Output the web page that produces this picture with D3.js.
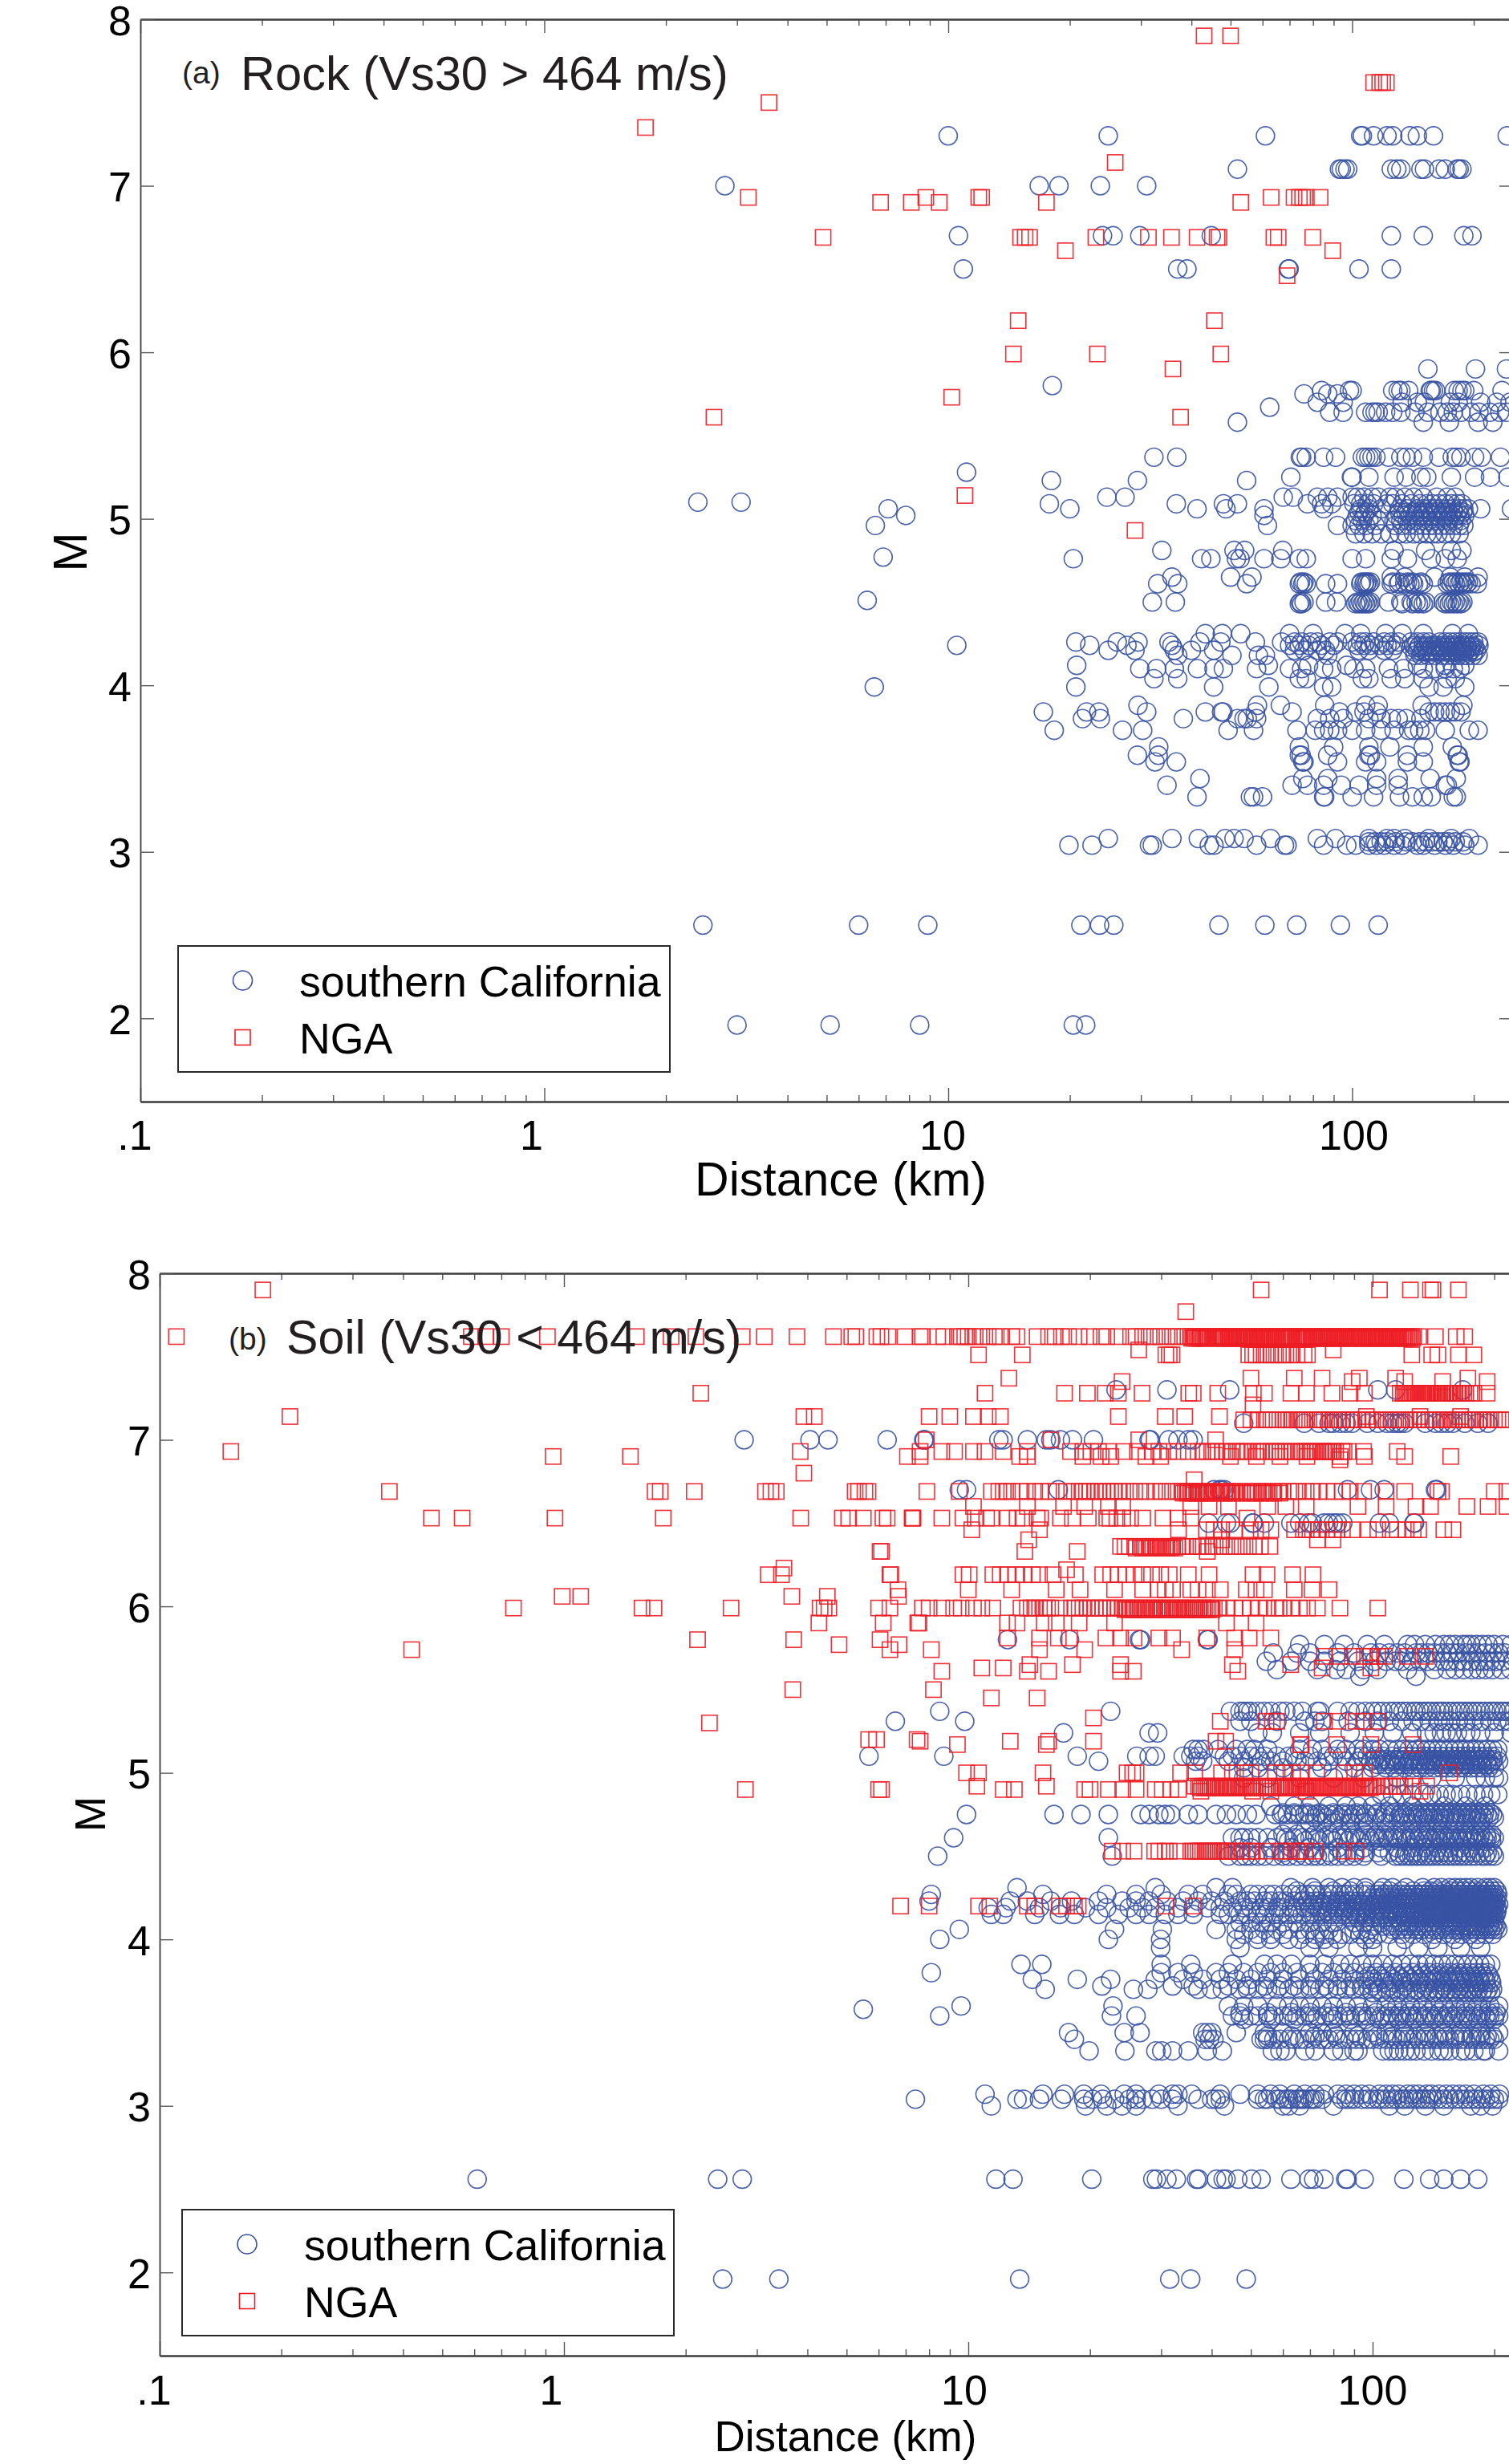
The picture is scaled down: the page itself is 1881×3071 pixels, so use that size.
<!DOCTYPE html>
<html><head><meta charset="utf-8">
<script src="https://cdn.jsdelivr.net/npm/d3@7"></script>
<style>html,body{margin:0;padding:0;background:#fff;overflow:hidden}svg{display:block}text{font-family:"Liberation Sans",Arial,sans-serif}</style>
</head><body><script>
// Each row: [magnitude M, [distances in km]]
const rockCaliforniaRows = [
[7.3,[10,24.9,61,105,106,113,122,126,139,145,159,242]],
[7.1,[52,93,94,96,97.5,125,129,132,148,151,164,170,182,184,187]],
[7.0,[2.8,16.8,18.8,23.8,31]],
[6.7,[10.6,24.1,25.6,29.8,44.8,125,150,189,198]],
[6.5,[10.9,37,39,69.5,69.8,104,125]],
[5.9,[154,202,241]],
[5.8,[18.1]],
[5.77,[84,98.5,100,126,130,132,138,156,157,159,161,179,183,187,190,200,235]],
[5.75,[76,87,92]],
[5.7,[82,95,133,145,151,175,183,208,228,246]],
[5.67,[62.5]],
[5.64,[88,95,108,112,114,116,121,126,132,143,154,165,172,178,186,197,206,219,232,241]],
[5.58,[52,150,174,205,223]],
[5.37,[32.3,36.8,74.4,75,77,85,91,106,108,110,112,114.5,123,132,136,141,150,164,177,181,186,201,209,233]],
[5.28,[11.1]],
[5.25,[70.5,99.6,100,110,127,136,148,153,176,201,220,243]],
[5.23,[18,29.4,54.8]],
[5.13,[24.7,27.4,67.5,71.5,82,87,92,100,103,107,112,116,124,128,135,142,150,162,172,180]],
[5.1,[2.4,3.07]],
[5.09,[17.8,36.7,48,52,77.5,84,89,101,105,109,113,122,126,133,140,147,153,158,164,170,176,182,187]],
[5.06,[7.1,20,41.3,48.7,60.5,85,105,110,118,131,137,145,150,155,160,166,172,178,184,189,194,208,248]],
[5.04,[104,108,131,136,141,146,150,154,158,163,168,173,178,183,188]],
[5.02,[7.85,60.5,103,107,112,129,134,139,143,148,152,157,161,167,171,176,181,185,190]],
[4.99,[102,106,110,116,127,132,137,143,149,155,161,167,173,179,186]],
[4.96,[6.6,61.7,92,100,104,108,114,128,133,138,144,150,155,160,166,172,178,184,189]],
[4.91,[102,107,112,118,124,131,136,142,147,153,158,163,170,176,184]],
[4.81,[33.8,51,54.2,67.3,127,152,176,187]],
[4.77,[6.9]],
[4.76,[20.4,42.4,44.7,51.7,52.8,60.5,66.6,74,77,100,108,125,137,157,170,182]],
[4.65,[35.8,50,56.5,125,135,160,175,190,205]],
[4.62,[74.5,76,105.5,107.5,109,111,126,131,137,141,148,174,178,182,186,190,194]],
[4.61,[33,37,54.8,74,75.5,77,86,92,105,107,108.5,110,125,130,135,139,142,146,150,172,176,180,184,188,192,197,204]],
[4.51,[6.3]],
[4.5,[32,36.5,74.5,76,86,91.5,103,105,107,109,111,123,132,140,144,148,152,168,172,176,180,184,188]],
[4.49,[74,75,102,104,106,108,110,133,141,146,150,170,174,178,182,186]],
[4.31,[43.3,47.7,53,70,80,96,105,121,133,150,177,194]],
[4.26,[20.7,26.2,29.5,35.2,42,47.3,57.6,66.9,72,75,79,82,88,92,100,105,108,113,120,125,130,140,145,150,155,165,170,175,180,185,190,195,200,205]],
[4.24,[10.5,22.4,27.7,35.8,70,74,78,84,90,103,107,111,117,122,128,142,147,152,158,163,168,172,177,182,187,192,198,206]],
[4.23,[140,146,150,153,157,161,165,169,173,177,181,185,189,193,197,201]],
[4.21,[24.9,29,36.3,40,45.4,72,76,82,86,104,110,120,126,145,150,156,160,165,170,175,180,184,188,192,197,203]],
[4.2,[143,149,153,158,162,167,172,176,181,186,190,195,200]],
[4.18,[37,50.4,58.6,61,87,143,148,154,160,167,172,178,183,188,193,199,205]],
[4.12,[20.8,62,78,97,145,170,190]],
[4.1,[29.8,32.8,36.3,41.4,45.5,48,58,70,75,85,89,101,108,123,134,150,160,170,178,185]],
[4.04,[32.3,37,74,77,106,110,125,135,150,172,180]],
[3.99,[6.56,20.7,45.4,62.2,85,89,155,168,190]],
[3.88,[29.5,58.3,66.4,85.5,108,116,149,188]],
[3.84,[17.2,22,23.6,31,43.3,47.5,47.9,57.6,71,93,102,107,115,155,160,165,170,175,180,186]],
[3.8,[21.5,23.8,38.2,52,54,55,58,82,88,95,110,118,125,130,136,148]],
[3.73,[18.3,27,30.3,49.3,57,73,81,85,88,92,100,108,118,127,138,142,147,152,170,195,205]],
[3.63,[33.2,74,90,110,124,150,177]],
[3.58,[29.4,33.1,74,74.8,87,110,111,137,182,183]],
[3.54,[32.5,36.7,75.5,76,92,108,115,137,150,184,185]],
[3.44,[42,75.5,87,115,130,156,181]],
[3.4,[34.8,71,77.5,85,94,104,115,130,170,172]],
[3.33,[41.3,56,57,60,85,85.5,100,113,131,141,150,157,178,181]],
[3.08,[24.9,35.8,41.6,48.5,51,54,62.8,82,91,110,122,127,135,155,176,195]],
[3.06,[110,114,118,122,128,136,141,147,152,158,163,168,173,180,188]],
[3.04,[19.9,22.7,31.5,32,44.3,45.5,58,68,69,85,97,102,110,115,120,127,133,145,150,160,170,178,190,205]],
[2.56,[2.47,6,8.9,21.3,23.7,25.7,46.8,60.8,72.9,93.5,116]],
[1.96,[3,5.1,8.5,20.4,21.9]]
];
const rockNgaRows = [
[7.9,[43,50]],
[7.62,[113,117,119,121.5]],
[7.5,[3.6]],
[7.35,[1.78]],
[7.14,[25.9]],
[6.93,[3.2,8.8,11.9,12.1,63,71.8,74,75.4,77,83.3]],
[6.9,[6.8,8.1,9.5,17.5,53]],
[6.69,[4.9,15.1,15.5,15.9,23.2,31.3,35.7,41.3,46.3,46.8,64,65.6,79.9]],
[6.61,[19.5,89.5]],
[6.46,[69]],
[6.19,[14.9,45.6]],
[5.99,[14.5,23.4,47.3]],
[5.9,[36]],
[5.73,[10.2]],
[5.61,[2.63,37.6]],
[5.14,[11]],
[4.93,[29]]
];
const soilCaliforniaRows = [
[7.3,[23.2,31,44.3,103,114,167]],
[7.1,[48,67.7,73.7,78,80,83.2,86,89,97,103,108.5,112,115,117,120,135,143,148,153,158,169,182,193]],
[7.0,[2.79,4.06,4.5,6.3,7.76,7.8,11.9,12.2,14,15.6,16,16.9,18.1,20.4,28,28.2,31.3,33,35,36]],
[6.7,[9.5,9.9,16.7,40.5,41.8,42.3,43,86.7,98.8,106.8,143,144]],
[6.5,[39.3,43.5,44.5,50.5,50.7,54,62.8,66,69.5,71,75.8,77.8,80,81.8,84.4,104,110,126.5,127]],
[5.8,[12.5,17.8,26.5,26.7,39,39.2]],
[5.77,[66,76,85,97,107,122,127,135,143,150,155,160,167,171,175,181,187,193,200,210,220,235]],
[5.72,[56.8,65,70,82,90,99,104,110,115,120,128,132,137,142,148,153,158,163,170,176,182,190,198,205,212,226]],
[5.67,[54.6,63,70,76,83,92,101,108,114,118,125,131,137,143,150,155,162,168,175,182,188,195,202,210,222,235]],
[5.62,[58,73,81,86,95,103,122,142,153,160,168,176,183,190,198,208,220]],
[5.58,[93,128]],
[5.37,[8.5,22.5,44.5,47,48,49,50,52,54,56,59,61,64,67,73,74,82,88,92,96,100,103,106,110,113,116,119,122,126,128,131,134,137,140,144,147,150,154,158,162,165,169,173,177,181,185,190,195,199,203,208,212,217,223,229,235,241]],
[5.31,[6.6,9.8,47,50,58,68,72,75,87,96,103,110,118,126,132,138,145,150,156,163,170,178,186,195,203,210,218,228,240]],
[5.24,[17.2,28,29.4,52,56.5,66,74,88,101,112,125,136,142,148,152,157,162,170,175,185,200,220]],
[5.14,[36,37,38.2,41.5,46,49,51,55,66,71,75,82,86,92,95,100,104,110,115,119,123,128,132,136,140,145,150,155,160,165,170,175,180,186,192,198,204]],
[5.1,[5.68,8.7,18.6,26.1,28,29,34,35.5,37,43,45,47,50,52,54,58,62,64,70,77,80,84,90,94,97,102,106,112,117,121,125,130,134,138,142,147,152,157,162,167,172,178,184,190,197,203]],
[5.08,[101,105,108,113,116,120,124,129,133,137,141,145,149,154,159,163,168,173,177,182,187,193,199]],
[5.07,[21,36.5,38,44,48,53,56,60,65,68,73,78,86,92,99,105,110,114,118,123,127,132,137,141,146,151,155,160,165,169,174,179,185,191,198,205]],
[5.05,[103,107,111,115,119,122,126,131,135,139,143,148,152,156,161,166,170,175,180,186,192,196]],
[5.03,[48,52,60,75,90,100,108,113,120,126,131,136,142,148,153,158,164,169,175,181,187,194,200]],
[4.97,[48,55,66,80,95,115,125,140,160,180,190,200,205]],
[4.87,[105,112,118,125,134,140,146,152,158,165,172,180,188,196,204]],
[4.8,[56,64,70,78,86,92,100,110,125,150,170,190]],
[4.76,[60,64,69,74,80,85,91,96,103,108,113,118,122,127,131,135,139,143,148,152,157,162,167,172,177,183,189,195]],
[4.75,[9.9,16.3,19,22.2,26.7,28,29.6,30.7,31.7,35,37,41,43.5,46,49,51.5,57.5,59.5,61.5,64,66,68,70,72.5,75,78,81,84,87,90,93,97,102,107,112,117,120,125,129,133,137,141,146,150,155,160,165,170,175,180,186,192,198]],
[4.73,[72,77,83,89,95,101,106,111,116,121,126,130,134,138,142,147,151,156,161,166,171,176,182,188,194,200]],
[4.7,[62,70,75,80,88,95,108,118,125,135,145,160,170,185]],
[4.63,[60,65,72,78,84,90,96,102,107,113,119,125,131,137,143,149,155,161,167,173,179,185,191,197]],
[4.61,[9.2,22.2,45,47,48,50,52,55,58,61,64,67,70,73,76,79,82,85,88,91,94,98,101,103,106,109,112,115,118,121,124,127,130,133,136,139,142,145,148,151,154,157,160,163,166,169,172,176,180,184,188,192,196,200]],
[4.59,[62,68,74,80,87,93,99,104,110,116,122,128,134,140,146,152,158,164,170,177,183,190,197]],
[4.55,[47,50,56,63,70,82,95,105,115,125,135,145,155,165,175,190]],
[4.52,[60,66,72,78,84,90,96,103,110,116,121,126,131,137,143,148,153,159,165,171,178,184,192,198]],
[4.5,[8.4,22.7,44,47,48.5,50,52,54,57,60,62,65,68,71,73,76,79,82,86,90,95,105,114,117,120,123,125,128,130,133,136,139,142,146,150,154,158,162,166,170,175,180,186,190,195,200]],
[4.31,[13.2,29,41,45,62.8,71,78,84,90,96,106,112,121,133,142,148,155,160,165,170,175,182,190,195,200]],
[4.29,[65,72,80,88,96,104,110,118,126,134,139,144,150,156,162,168,174,180,186,192,198,203]],
[4.27,[8.1,15.3,22,26,30,35,38,44,46,50,52,55,57,60,63,66,68,70,72,75,78,80,83,85,87,90,94,97,101,104,107,110,113,116,119,122,125,128,131,134,137,140,143,146,149,152,155,158,161,164,167,170,173,176,179,182,185,188,191,194,197,200,204]],
[4.25,[100,103,106,109,112,115,118,121,124,127,130,133,136,139,142,145,148,151,154,157,160,163,166,169,172,175,178,181,184,187,190,193,196,199,203]],
[4.23,[8,12.7,14,16,18,21,24,26,28,31,34,37,40,43,47,49,51,54,56,59,61,64,67,69,72,74,77,79,82,84,87,89,92,95,98,102,105,109,112,115,118,121,124,127,130,133,136,139,142,145,148,151,154,157,160,163,166,169,172,175,178,181,184,187,190,193,196,199,202]],
[4.21,[71,75,79,83,86,90,94,98,101,104,107,111,114,117,120,123,126,129,132,135,138,141,144,147,150,153,156,159,162,165,168,171,174,177,180,183,186,189,192,195,198,201,205]],
[4.19,[11.2,12.4,15,16.9,19.5,22,25,27,29,33,36,39,42,45,48,50,53,55,58,60,63,65,68,70,73,75,78,81,83,86,88,91,94,96,99,103,106,110,113,116,119,122,125,128,131,134,137,140,143,146,149,152,155,158,161,164,167,170,173,176,179,182,185,188,191,194,197,200,203]],
[4.17,[74,77,82,85,89,93,97,101,105,109,112,115,118,121,124,127,130,133,136,139,142,145,148,151,154,157,160,163,166,169,172,175,178,181,184,187,190,193,196,199,203]],
[4.15,[11.4,12.2,14.6,16.8,18.3,21,23.5,26,28,30.7,33,36,42,44,47,49,52,54,57,59,62,64,67,70,72,75,78,80,83,85,88,91,93,96,100,104,107,111,115,118,121,124,127,130,133,136,139,142,145,148,151,154,157,160,163,166,169,172,175,178,181,184,187,190,193,196,199,202]],
[4.13,[88,92,96,100,104,108,112,116,120,124,128,132,136,140,144,148,152,156,160,164,168,172,176,180,184,188,192,196,200]],
[4.1,[47,50,53,56,60,65,70,75,80,90,95,105,112,118,123,129,134,140,145,151,156,162,167,173,178,184,189,195,200]],
[4.08,[100,106,110,114,118,122,126,130,134,138,142,146,150,154,158,162,166,170,174,178,182,186,190,194,198,202]],
[4.06,[9.5,23,30.2,41,46,50,54,58,62,66,70,74,78,90,94,98,112,116,120,124,128,132,136,140,144,148,152,156,160,164,168,172,176,180,184,188,192,196,200,204]],
[4.03,[48,52,56,60,68,72,76,80,84,88,93,98,103,110,118,126,134,142,150,158,166,174,182,190,198]],
[4.0,[8.5,22.2,29.9,46,52,56,62,66,72,76,82,96,100,120,140,160,180]],
[3.95,[29.9,47,70,78,92,100,115,130,145,165,185]],
[3.85,[13.5,15.2,30,35.5,45,54,58,63,70,76,83,88,94,100,106,112,118,124,130,136,142,148,154,160,166,172,178,184,190,196]],
[3.8,[8.1,30,33,36,41,44,48,52,56,60,65,70,75,80,85,90,96,102,108,114,120,126,132,138,144,150,156,162,168,174,180,186,192]],
[3.78,[98,104,110,116,122,128,134,140,146,152,158,164,170,176,182,188,194]],
[3.76,[14.4,18.6,22.5,29,34,38,42,46,50,55,60,66,72,78,84,90,96,100,106,112,118,124,130,136,142,148,154,160,166,172,178,184,190,196]],
[3.74,[101,107,113,119,125,131,137,143,149,155,161,167,173,179,185,191,197]],
[3.72,[21.4,32,36,44,49,54,59,64,70,76,82,88,94,100,110,120,135,150,165,180]],
[3.7,[15.5,25.6,27.8,37,40,42.5,47,49,52,55,58,62,66,70,74,78,82,86,90,94,98,103,108,113,118,123,128,133,138,143,148,153,158,163,168,173,178,183,188,193,198]],
[3.68,[100,105,111,116,121,126,131,136,141,146,151,156,161,166,171,176,181,186,191,196]],
[3.6,[9.6,22.8,44,48,52,58,62,66,70,75,80,86,92,100,108,115,124,133,142,150,160,170,182,195,205]],
[3.58,[5.5]],
[3.56,[47,55,63,70,78,86,94,102,110,117,123,130,138,146,154,162,170,178,186,194,202]],
[3.54,[8.5,22.6,26,45,47,50,52,55,57,60,62,65,68,70,73,76,79,82,85,88,91,94,97,101,105,108,112,115,118,122,125,129,133,136,140,144,148,152,156,160,165,170,175,180,185,190,195,200,205]],
[3.52,[48,56,64,72,80,88,96,104,110,116,120,127,135,142,150,158,167,173,182,192,200]],
[3.44,[17.7,24.3,26.6,38,39,40,46,54,60,70,75,80,90,100,108,120,135,150,165,185,205]],
[3.42,[55,63,72,81,92,103,112,120,128,136,144,152,160,168,176,184,192,198]],
[3.4,[18.3,38.5,39.5,40.5,53,54,55,57,59,62,64,66,68,71,74,76,78,82,85,88,91,94,97,100,104,108,112,115,118,122,126,130,134,138,142,146,150,155,160,165,170,175,180,185,190,195,200]],
[3.33,[19.9,24.4,29.1,30.1,32,35,39,42.5,56.5,59,61,68,72,80,84,90,92,106,110,113,116,120,124,128,134,140,146,150,155,165,170,178,188,190,205]],
[3.07,[11,15.3,17.3,19.3,21.3,24.3,26,29.6,32,33,35.7,42,47,52,56,59,64,68,72,76,82,86,90,94,98,104,108,112,116,122,126,130,136,140,146,152,158,164,170,178,188,196,206]],
[3.04,[7.4,13.2,13.7,15,17,19.3,20.3,21.5,23,25,26,27,28.5,30,32,37,40,41,42,52,54,55,58,59,61,62,63,65,66,67,68,70,71,72,75,84,86,88,90,94,97,100,103,105,108,112,115,118,120,123,126,129,132,135,138,141,145,150,155,160,165,170,175,180,185,190,195,200,205]],
[3.0,[11.4,19.5,22,24,26,33,43,60,62,66,80,110,120,135,150,175,185,198]],
[2.56,[.61,2.4,2.76,11.7,12.9,20.2,28.6,29.2,31,32.7,36.7,37.1,41.1,42.7,43.4,46.4,50.2,53,62.8,69.6,71.5,75.8,85.8,86.5,95.3,119.5,138.4,150,165,182]],
[1.96,[2.47,3.4,13.4,31.5,35.5,48.7]]
];
const soilNgaRows = [
[7.9,[.18,53,104,124,139,141,163]],
[7.77,[34.5]],
[7.62,[.11,.59,.64,.7,.91,1.51,1.84,2.12,2.76,3.13,3.77,4.64,5.15,5.27,5.94,6.08,6.33,6.97,7.6,7.7,8.4,8.7,9.4,9.6,9.8,10,10.4,10.8,11.2,11.6,12,12.8,13.2,14.8,15.8,16.4,17,17.7,18.8,19.9,21.3,22,23.5,25.2,26,27,28,28.9,29.9,31,32,33.1,34.3,35.4,36,36.5,37.1,37.6,38.1,38.7,39.2,40.3,40.9,41.5,42.1,42.7,43.3,44,44.6,45.3,46,46.7,47.4,48.1,48.8,49.5,50.3,51,51.8,52.6,53.4,54.2,55,55.8,56.6,57.5,58.3,59.2,60.1,61,61.9,62.8,64.7,65.7,66.7,67.7,68.7,69.7,70.8,71.8,72.9,74,75.1,76.2,77.4,78.5,79.7,80.9,82.1,83.3,84.6,85.8,87.1,88.4,89.8,91.1,92.5,93.8,95.2,96.7,98.1,99.6,101,102.6,104.1,105.7,107.2,108.8,110.5,112.1,113.8,115.5,117.2,119,120.8,122.6,124.5,126.3,130,143,161,169]],
[7.61,[35.7,36.3,36.8,37.4,37.9,38.4,39,40.6,41.2,41.8,42.4,43,43.7,44.3,45,45.7,46.3,47,47.7,48.4,49.2,49.9,50.7,51.4,52.2,53,53.8,54.6,55.4,56.2,57.1,57.9,58.8,59.7,60.5,61.4,62.3,63.3,65.2,66.2,67.2,68.2,69.2,70.3,71.3,72.4,73.5,74.6,75.7,76.8,78,79.1,80.3,81.5,82.7,84,85.2,86.5,87.8,89.1,90.4,91.8,93.2,94.5,96,97.4,98.9,100.3,101.8,103.3,104.9,106.4,108,109.6,111.3,113,114.6,116.4,118.1,119.9,121.7,123.5,125.4]],
[7.54,[26.4,79.9]],
[7.51,[10.6,13.6,30.8,31.4,31.9,49.4,50.5,51.5,53,54.5,56,57,58.5,60,61,62.8,65,67.7,69,125,140,145,163,178]],
[7.37,[12.6,50,64,75,92.7,114,172]],
[7.35,[24,89,120,149,192]],
[7.28,[2.18,11,17.3,19.7,21.8,23.5,26.9,35.1,36,41.4,50.7,54,62.8,68.6,79.3,87.9,95.4,117,119,120,121,122,123,124,125,126,127,128,129,130,131,132,133,134,135,136,137,138,139,140,141,143,144,145,146,148,149,151,152,154,155,157,158,160,162,163,165,166,168,170,174,178,192]],
[7.21,[50.6]],
[7.14,[.21,3.92,4.16,8,9,10.3,11.2,12,23.5,30.7,34.3,41.8,96.5,131,165]],
[7.12,[48,50,52,54,55,56,58,60,61,62,63,64,65,66,67,68,72,73,74,75,76,78,80,82,84,86,88,90,92,94,97,100,103,106,108,111,114,117,120,123,126,129,132,135,138,141,144,147,150,153,156,159,162,165,168,171,174,177,180,184,188,192,196,200,204,208,212]],
[7.0,[7.87,16,26.4,40.9]],
[6.93,[.15,3.84,7.6,8.6,9.25,10.3,11,12.2,14,17.9,19.2,20.1,21,22.2,24.3,26.2,28.5,29.6,31.3,33,35,37,38,39,40,41,42.5,43.5,45,46,47,48,49,50.5,52,53,54,56,57,58,59,60,61,63,64.5,66,67,68,69,70,71,72,73,74.5,75.5,76,77,78,79,80,81,84,85,87,95,115]],
[6.9,[.94,1.46,7.07,7.6,13.4,14,19.2,21.3,22.5,27.5,29.9,44.5,51.6,59,68.8,83.2,95.4,120,156]],
[6.88,[83]],
[6.8,[3.92]],
[6.76,[36.2]],
[6.69,[.37,1.68,1.73,2.1,3.15,3.25,3.35,5.25,5.35,5.55,5.65,7.9,9.5,11.4,11.9,12.2,12.5,12.8,13.5,14,14.6,15.1,15.8,16.5,17.5,18.3,18.8,19.2,19.6,20,20.6,21,21.5,22,22.5,23,23.5,24.1,25,25.8,26.7,27.6,28.9,29.9,30.9,32,33.1,33.8,34.4,35,35.7,36.2,37,37.6,38.3,39,40.5,42.3,43.5,44.5,45.5,47,48.8,50.5,52,53.4,54.6,56.5,58.5,60,62,64.2,65.5,68.5,71,73.5,77,80.5,84.2,88,95,108,120,145,148,200,215]],
[6.68,[34,34.8,35.4,36,36.7,37.3,38,38.7,39.3,40,41,42,43,44,45,46,47.7,49,50,51.3,53,54,55.5,57,59]],
[6.6,[10.3,14,17.2,19.4,22.2,24.1,35.5,39.4,44,55,61,68.5,92,108,128,139,171,193,215]],
[6.53,[.47,.56,.95,1.76,3.85,4.88,5.06,5.5,6.15,7.26,7.28,6.3,7.3,8.6,9.7,10.4,11.1,11.4,12.5,13.2,13.7,14.8,15.1,16.9,18.1,19.8,22,22.4,23.3,24.1,25.2,27,30.3,33,35.5,48.9]],
[6.46,[10.2,15,33.1,38.8,40.5,42.3,45.5,49.8,53,56,64.1,67.4,68.5,71,73.4,77,80,81.5,84.2,89,97.6,103,110.6,115,121,126,130,150,158]],
[6.4,[14.1,42.3,73,79.8]],
[6.36,[23.8,24.4,25,25.8,26.7,27.3,28,28.6,29.2,29.9,30.7,31.4,32,32.9,33.7,34.9,36,37,37.6,38.9,40.2,41.6,43,44.5,46,47.6,49.3,51,52.8,55.7]],
[6.35,[26,27,27.6,28.3,29,29.5,30.3,31,31.7,32.4]],
[6.33,[6.05,6.1,13.8,18.6,39]],
[6.23,[3.5]],
[6.22,[17.5]],
[6.19,[3.2,3.45,6.43,6.4,9.7,10.05,11.5,12,12.5,13.1,13.7,14.4,15,16.2,18.4,21.5,22.5,23.5,24.5,25.7,27,28.4,29.9,31.4,35,39.4,50.6,54.8,63.4,71.2]],
[6.1,[6.7,10,12.8,16.5,18.9,23,27,29.5,30.7,32,35.5,37,39,42,48.7,51.5,54,64,70.8,78]],
[6.06,[.99,1.1,3.66,4.48,6.72]],
[5.99,[.75,1.56,1.67,2.59,4.3,4.4,4.52,6,6.4,7.7,8,8.6,9.2,9.6,10.3,10.8,11.5,13.5,14,14.3,14.6,15,15.4,15.7,16,16.8,18,18.4,18.8,19.2,19.7,20.1,20.6,21.1,21.5,22,22.5,23,23.5,24.1,24.7,25.2,25.8,26.4,27,27.6,28.3,28.9,29.6,30.2,31,31.6,32.4,33.1,33.9,34.7,35.5,36.3,37.1,38,38.8,39.7,40.6,41.5,43.5,45.6,47.7,49.9,52.3,54.8,57.4,58.7,60.1,62.9,65.9,69,73,83,103]],
[5.98,[24.4,25,25.5,26.1,26.7,27.3,28,28.6,29.3,29.9,30.6,31.3,32,32.8,33.5,34.3,35.1,36,36.7,37.5,38.4,39.2,40.1]],
[5.9,[4.27,6.16,7.55,7.5,12.5,13.2,15.4,16.5,18.8,23,43.5,51.5]],
[5.81,[12.5,15,16.7,17.8,21.9,23.8,25.7,29.6,32,38.9,45.6,49.5,56]],
[5.8,[2.14,3.7,6.05]],
[5.77,[4.79,6.74]],
[5.74,[.42,6.4,8.1,15,19.4,33.7,45.6]],
[5.7,[76,83,89,95.4,99,103,107,122,135]],
[5.65,[14.2,18.1,23.8,45,62.7]],
[5.63,[10.8,12.2,75,99]],
[5.61,[8.6,14,15.8,23.8,25.6,46.4]],
[5.5,[3.68,8.2]],
[5.45,[11.4,14.8]],
[5.33,[20.4]],
[5.31,[42,54.5,56.5,58,76,82,91,95,103]],
[5.3,[2.29]],
[5.2,[5.67,5.93,7.47]],
[5.19,[7.6,12.7,15.8,20.4,41,43.3]],
[5.17,[9.4,15.6,66.3,66.6,81.5,99,126]],
[5,[9.9,10.6,15.3,24.7,25.5,26,33.5,36.3,42.3,45,48.3,50,57.5,60.5,63.4,66.4,72.8,85,90.3,95.4,155]],
[4.92,[10.5,15.6,36.3,37.1,38,38.8,39.7,40.6,41.5,42.5,43.5,44.5,45.6,46.7,47.7,48.8,50,51.1,53,54.8,56.7,58.7,60.1,61.5,62.9,64.4,65.9,67.4,69,70.6,72.3,74,75.7,77.5,79.3,81.2,83.1,85,87,89,91.1,93.3,95.4,97.7,100,102,105,107,110,112,115,117,120,126,136]],
[4.91,[37.5,38.4,39.2,40.1,41,42,43,44,45,46,47.2,48.2,49.4,50.5,52,53.9,55.7,57.7,59.4,60.8,62.2,63.6,65.1,66.6,68.2,69.8,71.4,73.1,74.8,76.6,78.4,80.2,82.1,84,86,88,90,92.2,94.3,96.5,98.8]],
[4.9,[2.81,6,6.1,12.2,13,19.4,20,22.2,24.1,26,29,30.2,31.7,33.1]],
[4.89,[37.6,50.5,56,68.5,131]],
[4.53,[22.7,24.1,25.7,28.9,29.6,30.7,31.4,32.9,35.5,36,36.5,37,37.5,38,38.5,39,39.5,40,40.5,41,41.5,42,42.5,43,43.5,44,45,46,47.5,49,50,51.5,55,59,61,63,65,66,68,72,85,91]],
[4.2,[6.8,8,10.6,11.3,14,14.6,16.8,17.5,18.3,18.7,30.8,36]]
];
const magnitudeTicks = [2,3,4,5,6,7,8];
const majorDistanceTicks = [.1,1,10,100];
const minorDistanceTicks = [.2,.3,.4,.5,.6,.7,.8,.9,2,3,4,5,6,7,8,9,20,30,40,50,60,70,80,90,200];
const distanceTickLabels = [".1","1","10","100"];
const seriesNames = ["southern California","NGA"];

const BLUE="#3953a4", RED="#ed1c24", AXIS="#3c3c3c", INK="#231f20";
const svg=d3.select("body").append("svg").attr("width",1881).attr("height",3071);
const flat=rows=>rows.flatMap(([m,ds])=>ds.map(d=>({m,d})));

function panel(o){
  const x=d3.scaleLog().domain([.1,250]).range([o.left,o.left+o.decade*Math.log10(2500)]);
  const y=d3.scaleLinear().domain([1.5,8]).range([o.bottom,o.top]);
  const g=svg.append("g");
  const R=11.4, S=19.2, SW=1.6;
  g.append("g").selectAll("circle").data(flat(o.ca)).join("circle")
    .attr("cx",p=>x(p.d)).attr("cy",p=>y(p.m)).attr("r",R)
    .attr("fill","none").attr("stroke",BLUE).attr("stroke-width",SW).attr("stroke-opacity",.9);
  g.append("g").selectAll("rect").data(flat(o.nga)).join("rect")
    .attr("x",p=>x(p.d)-S/2).attr("y",p=>y(p.m)-S/2).attr("width",S).attr("height",S)
    .attr("fill","none").attr("stroke",RED).attr("stroke-width",SW).attr("stroke-opacity",.9);
  const addX=(sel,gen)=>{
    gen(sel);
    sel.selectAll(".tick text").remove();
    sel.selectAll("line").attr("stroke","#555").attr("stroke-width",1.4);
    sel.select(".domain").attr("stroke",AXIS).attr("stroke-width",1.8);
  };
  const minorB=d3.axisBottom(x).tickValues(minorDistanceTicks).tickSizeInner(-8).tickSizeOuter(0);
  const majorB=d3.axisBottom(x).tickValues(majorDistanceTicks).tickSizeInner(-17).tickSizeOuter(0);
  const minorT=d3.axisTop(x).tickValues(minorDistanceTicks).tickSizeInner(-8).tickSizeOuter(0);
  const majorT=d3.axisTop(x).tickValues(majorDistanceTicks).tickSizeInner(-17).tickSizeOuter(0);
  addX(g.append("g").attr("transform",`translate(0,${o.bottom})`),minorB);
  addX(g.append("g").attr("transform",`translate(0,${o.bottom})`),majorB);
  addX(g.append("g").attr("transform",`translate(0,${o.top})`),minorT);
  addX(g.append("g").attr("transform",`translate(0,${o.top})`),majorT);
  const yL=g.append("g").attr("transform",`translate(${o.left},0)`);
  d3.axisLeft(y).tickValues(magnitudeTicks).tickSizeInner(-17).tickSizeOuter(0).tickPadding(27).tickFormat(d3.format("d"))(yL);
  const yR=g.append("g").attr("transform",`translate(${x.range()[1]},0)`);
  d3.axisRight(y).tickValues(magnitudeTicks).tickSizeInner(-17).tickSizeOuter(0).tickFormat("")(yR);
  [yL,yR].forEach(s=>{s.selectAll("line").attr("stroke","#555").attr("stroke-width",1.4);s.select(".domain").attr("stroke",AXIS).attr("stroke-width",1.8);});
  yL.selectAll(".tick text").attr("font-size",52).attr("font-family","Liberation Sans").attr("fill","#000").attr("dy",19).attr("x",-11);
  g.append("g").selectAll("text").data(majorDistanceTicks).join("text")
    .attr("x",(d,i)=>x(d)+o.xLabelDx[i]).attr("y",o.tickBase).attr("text-anchor","middle")
    .attr("font-size",52).attr("fill","#000").text((d,i)=>distanceTickLabels[i]);
  g.append("text").attr("x",o.xTitle[0]).attr("y",o.xTitle[1]).attr("text-anchor","middle").attr("font-size",o.xTitle[2]).attr("fill","#000").text("Distance (km)");
  g.append("text").attr("transform",`translate(${o.yTitle[0]},${o.yTitle[1]}) rotate(-90)`).attr("text-anchor","middle").attr("font-size",o.yTitle[2]).attr("fill","#000").text("M");
  g.append("text").attr("x",o.tag[0]).attr("y",o.tag[1]).attr("font-size",o.tag[2]).attr("fill",INK).text(o.tag[3]);
  g.append("text").attr("x",o.title[0]).attr("y",o.title[1]).attr("font-size",o.title[2]).attr("fill",INK).text(o.title[3]);
  const L=o.legend;
  g.append("rect").attr("x",L.x0).attr("y",L.y0).attr("width",L.x1-L.x0).attr("height",L.y1-L.y0).attr("fill","#fff").attr("stroke","#2a2a2a").attr("stroke-width",2);
  g.append("circle").attr("cx",L.mx).attr("cy",L.cy).attr("r",12).attr("fill","none").attr("stroke",BLUE).attr("stroke-width",SW);
  g.append("rect").attr("x",L.mx-9.5).attr("y",L.sy-9.5).attr("width",19).attr("height",19).attr("fill","none").attr("stroke",RED).attr("stroke-width",SW);
  g.append("text").attr("x",L.tx).attr("y",L.b1).attr("font-size",53.7).attr("fill","#000").text(seriesNames[0]);
  g.append("text").attr("x",L.tx).attr("y",L.b2).attr("font-size",53.7).attr("fill","#000").text(seriesNames[1]);
}

panel({ca:rockCaliforniaRows,nga:rockNgaRows,left:175,decade:503.5,top:24,bottom:1373,
  xLabelDx:[-7,-16,-7,2],tickBase:1433,xTitle:[1048,1490,59],yTitle:[108,688,59],
  tag:[227,104,39,"(a)"],title:[300,112,59.6,"Rock (Vs30 > 464 m/s)"],
  legend:{x0:222,y0:1179,x1:835,y1:1336,mx:302.5,cy:1222,sy:1293,tx:373,b1:1242,b2:1313}});
panel({ca:soilCaliforniaRows,nga:soilNgaRows,left:199,decade:504,top:1587,bottom:2936,
  xLabelDx:[-7,-16,-5,0],tickBase:2997,xTitle:[1054,3055,53],yTitle:[131,2261,53],
  tag:[285,1682,39,"(b)"],title:[357,1687,59.2,"Soil (Vs30 < 464 m/s)"],
  legend:{x0:227,y0:2754,x1:840,y1:2911,mx:308,cy:2797,sy:2868,tx:379,b1:2817,b2:2888}});
</script></body></html>
